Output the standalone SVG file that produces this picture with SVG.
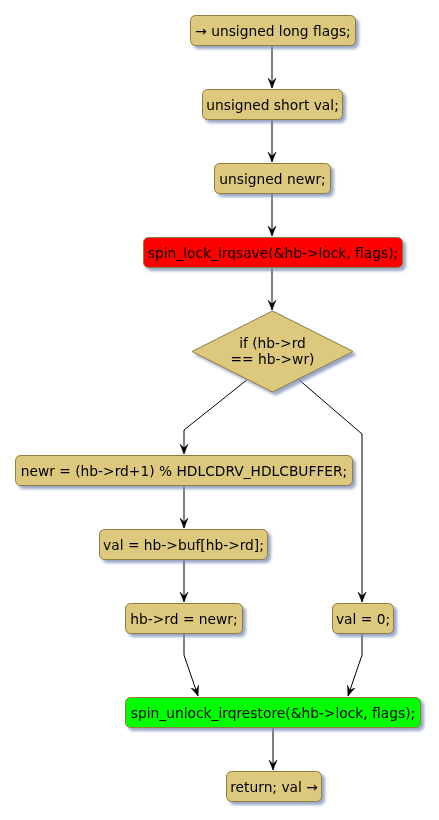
<svg xmlns="http://www.w3.org/2000/svg" width="439" height="820" viewBox="0 0 439 820">
<style>
.n{fill:#DDC97E;stroke:#8F7D3F;stroke-width:1}
.t{font-family:"DejaVu Sans",sans-serif;font-size:13.8px;fill:#000;text-anchor:middle}
.c{fill:none;stroke:#000;stroke-width:1}
</style>
<defs>
<filter id="sh" x="-10%" y="-20%" width="130%" height="160%">
<feGaussianBlur in="SourceAlpha" stdDeviation="1.5"/>
<feOffset dx="3" dy="3" result="b"/>
<feFlood flood-color="#8090B8" flood-opacity="0.8"/>
<feComposite in2="b" operator="in"/>
<feMerge><feMergeNode/><feMergeNode in="SourceGraphic"/></feMerge>
</filter>
<marker id="a" markerUnits="userSpaceOnUse" markerWidth="12" markerHeight="12" refX="10" refY="5" orient="auto" viewBox="0 0 12 12">
<path d="M0,1 L10,5 L0,9 L4,5 Z" fill="#000" stroke="#000" stroke-width="0.5"/>
</marker>
</defs>
<rect width="439" height="820" fill="#fff"/>
<g id="connectors">
<path class="c" d="M272,45 V88" marker-end="url(#a)"/>
<path class="c" d="M272,119 V162" marker-end="url(#a)"/>
<path class="c" d="M272,193 V236" marker-end="url(#a)"/>
<path class="c" d="M272,267 V310" marker-end="url(#a)"/>
<path class="c" d="M248,379 L184,430 V454" marker-end="url(#a)"/>
<path class="c" d="M298,379 L362,434 V602" marker-end="url(#a)"/>
<path class="c" d="M184,485 V528" marker-end="url(#a)"/>
<path class="c" d="M184,559 V602" marker-end="url(#a)"/>
<path class="c" d="M184,633 V655 L198,696" marker-end="url(#a)"/>
<path class="c" d="M362,633 V655 L348,696" marker-end="url(#a)"/>
<path class="c" d="M273,728 V770" marker-end="url(#a)"/>
</g>
<g id="n1" filter="url(#sh)"><rect class="n" x="190.5" y="15.5" width="165" height="30" rx="5"/><text class="t" x="273" y="35.5">→ unsigned long flags;</text></g>
<g id="n2" filter="url(#sh)"><rect class="n" x="202.5" y="89.5" width="140" height="30" rx="5"/><text class="t" x="272.5" y="109.5">unsigned short val;</text></g>
<g id="n3" filter="url(#sh)"><rect class="n" x="214.5" y="163.5" width="116" height="30" rx="5"/><text class="t" x="272.5" y="183.5">unsigned newr;</text></g>
<g id="n4" filter="url(#sh)"><rect class="n" style="fill:#FF0000" x="143.5" y="237.5" width="259" height="30" rx="5"/><text class="t" x="273" y="257.5">spin_lock_irqsave(&amp;hb-&gt;lock, flags);</text></g>
<g id="n5" filter="url(#sh)"><polygon class="n" points="272.5,311 353,351.5 272.5,392 192,351.5"/><text class="t" x="272.5" y="347.5">if (hb-&gt;rd</text><text class="t" x="272.5" y="363.5">== hb-&gt;wr)</text></g>
<g id="n6" filter="url(#sh)"><rect class="n" x="15.5" y="455.5" width="337" height="30" rx="5"/><text class="t" x="184" y="475.5">newr = (hb-&gt;rd+1) % HDLCDRV_HDLCBUFFER;</text></g>
<g id="n7" filter="url(#sh)"><rect class="n" x="99.5" y="529.5" width="168" height="30" rx="5"/><text class="t" x="183.5" y="549.5">val = hb-&gt;buf[hb-&gt;rd];</text></g>
<g id="n8" filter="url(#sh)"><rect class="n" x="125.5" y="603.5" width="117" height="30" rx="5"/><text class="t" x="184" y="623.5">hb-&gt;rd = newr;</text></g>
<g id="n9" filter="url(#sh)"><rect class="n" x="332.5" y="603.5" width="61" height="30" rx="5"/><text class="t" x="363" y="623.5">val = 0;</text></g>
<g id="n10" filter="url(#sh)"><rect class="n" style="fill:#00FF00" x="125.5" y="697.5" width="295" height="30" rx="5"/><text class="t" x="273" y="717.5">spin_unlock_irqrestore(&amp;hb-&gt;lock, flags);</text></g>
<g id="n11" filter="url(#sh)"><rect class="n" x="226.5" y="771.5" width="95" height="30" rx="5"/><text class="t" x="274" y="791.5">return; val →</text></g>
</svg>
